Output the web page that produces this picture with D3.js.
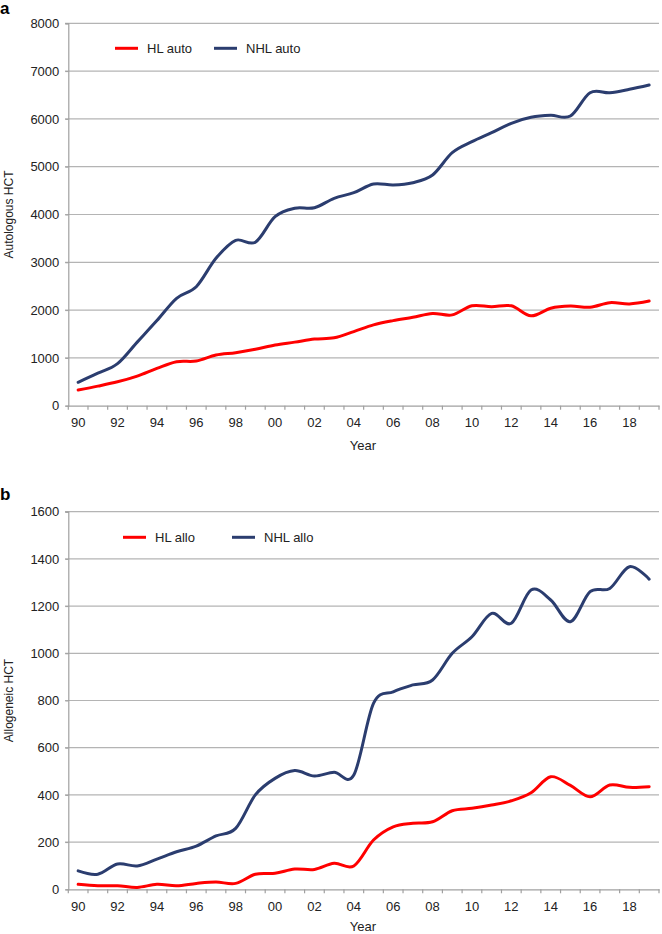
<!DOCTYPE html>
<html><head><meta charset="utf-8">
<script src="https://cdn.jsdelivr.net/npm/d3@7"></script>
<style>body{margin:0;background:#fff}svg{display:block}text{font-family:"Liberation Sans",Arial,sans-serif}</style>
</head><body>
<svg id="c" width="662" height="934"></svg>
<script>
const years = ["90","91","92","93","94","95","96","97","98","99","00","01","02","03","04","05","06","07","08","09","10","11","12","13","14","15","16","17","18","19"];
const hlAuto = [330,410,500,620,780,920,935,1060,1110,1180,1270,1330,1395,1420,1550,1690,1780,1850,1930,1900,2090,2070,2090,1880,2040,2085,2060,2155,2130,2190];
const nhlAuto = [490,680,880,1330,1780,2247,2490,3084,3460,3420,3954,4130,4142,4339,4456,4638,4617,4665,4826,5293,5523,5711,5908,6033,6075,6060,6548,6548,6620,6709];
const hlAllo = [21,15,15,8,21,15,25,31,25,64,68,86,84,110,99,209,265,280,286,333,343,357,375,409,477,440,392,442,432,435];
const nhlAllo = [78,64,107,99,128,159,183,226,258,400,470,503,480,496,484,788,837,866,887,1000,1070,1169,1127,1268,1226,1134,1261,1275,1367,1314];
const autoTicks = [0,1000,2000,3000,4000,5000,6000,7000,8000];
const alloTicks = [0,200,400,600,800,1000,1200,1400,1600];
const RED = "#ff0000", BLUE = "#2b3d6f";

const svg = d3.select("#c");

function panel(cfg){
  const g = svg.append("g");
  const x = d3.scaleBand().domain(years).range([68.3, 659]);
  const y = d3.scaleLinear().domain([0, cfg.max]).range([cfg.y0, cfg.y1]);
  g.append("g").selectAll("line").data(cfg.ticks.slice(1)).join("line")
    .attr("x1", 65).attr("x2", 659).attr("y1", d=>y(d)).attr("y2", d=>y(d))
    .attr("stroke", "#b4b4b4").attr("stroke-width", 1.2);
  const ya = g.append("g").attr("transform","translate(68.3,0)")
    .call(d3.axisLeft(y).tickValues(cfg.ticks).tickSize(3).tickPadding(6).tickFormat(d3.format("d")));
  ya.select(".domain").attr("stroke","#a0a0a0").attr("stroke-width",1.2);
  ya.selectAll(".tick line").attr("stroke","#a0a0a0");
  ya.selectAll("text").attr("font-size","13px").attr("fill","#222").style("font-family","Liberation Sans, Arial, sans-serif");
  const xa = g.append("g").attr("transform",`translate(0,${cfg.y0})`)
    .call(d3.axisBottom(x).tickSizeOuter(0).tickSize(0).tickPadding(12).tickFormat((d,i)=> i%2===0 ? d : ""));
  xa.select(".domain").attr("stroke","#a0a0a0").attr("stroke-width",1.2);
  xa.selectAll("text").attr("font-size","13px").attr("fill","#222").style("font-family","Liberation Sans, Arial, sans-serif");
  const bounds = years.map(d=>x(d)).concat([x(years[years.length-1])+x.bandwidth()]);
  g.append("g").selectAll("line").data(bounds).join("line")
    .attr("x1", d=>d).attr("x2", d=>d).attr("y1", cfg.y0).attr("y2", cfg.y0+4)
    .attr("stroke","#a0a0a0").attr("stroke-width",1.2);
  const line = d3.line().x((d,i)=>x(years[i])+x.bandwidth()/2).y(d=>y(d)).curve(d3.curveCatmullRom.alpha(0));
  cfg.series.forEach(s=>{
    g.append("path").attr("d", line(s.values)).attr("fill","none")
      .attr("stroke", s.color).attr("stroke-width", 3).attr("stroke-linejoin","round").attr("stroke-linecap","round");
  });
  cfg.series.forEach(s=>{
    g.append("line").attr("x1", s.lx).attr("x2", s.lx+23).attr("y1", cfg.ly).attr("y2", cfg.ly)
      .attr("stroke", s.color).attr("stroke-width", 3);
    g.append("text").attr("x", s.lx+32).attr("y", cfg.ly+4.5).attr("font-size","13px").attr("fill","#222").text(s.name);
  });
  g.append("text").attr("x", 363).attr("y", cfg.yearY).attr("text-anchor","middle").attr("font-size","13px").attr("fill","#222").text("Year");
  g.append("text").attr("transform",`translate(13,${(cfg.y0+cfg.y1)/2}) rotate(-90)`).attr("text-anchor","middle")
    .attr("font-size","12px").attr("fill","#222").text(cfg.ytitle);
  g.append("text").attr("x", 0).attr("y", cfg.labelY).attr("font-size","17px").attr("font-weight","bold").attr("fill","#000").text(cfg.label);
}

panel({max:8000, ticks:autoTicks, y0:405.7, y1:23.3, ly:48.3, yearY:450, ytitle:"Autologous HCT", label:"a", labelY:14,
  series:[{name:"HL auto", values:hlAuto, color:RED, lx:115},{name:"NHL auto", values:nhlAuto, color:BLUE, lx:214}]});
panel({max:1600, ticks:alloTicks, y0:889.3, y1:511.7, ly:537.3, yearY:931, ytitle:"Allogeneic HCT", label:"b", labelY:500,
  series:[{name:"HL allo", values:hlAllo, color:RED, lx:123},{name:"NHL allo", values:nhlAllo, color:BLUE, lx:232}]});
</script>
</body></html>
